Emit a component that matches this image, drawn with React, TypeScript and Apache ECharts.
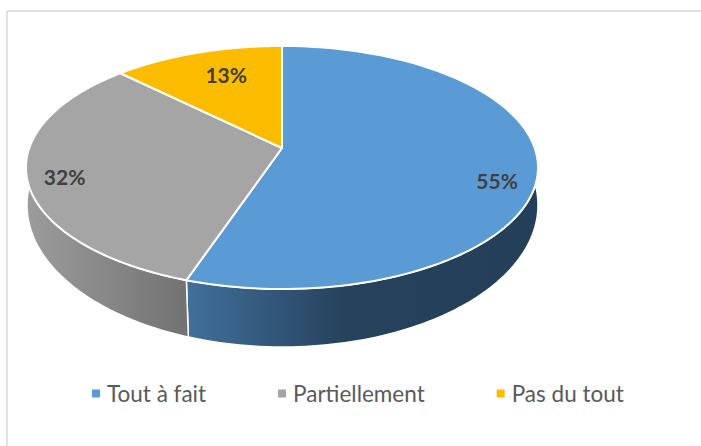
import React, { useEffect, useRef } from "react";
import * as echarts from "echarts";

const categories = ["Tout à fait", "Partiellement", "Pas du tout"];
const shares = [55.2, 32.2, 12.6];

const topColors = ["#5B9BD5", "#A5A5A5", "#FBBC00"];
const wallStops: [number, string][][] = [
  [[0, "#41709C"], [0.45, "#26425C"], [1, "#243F58"]],
  [[0, "#9C9C9C"], [1, "#727272"]],
  [[0, "#BD9000"], [1, "#BD9000"]],
];
// radial position of each label on the disc, plus a small screen shift
const labelRadius = [0.84, 0.86, 0.7];
const labelShift = [[1, 16], [1, 4], [6, -4]];

// perspective disc
const APEX = { x: 282, y: 148 };
const K = 0.1605, A = 118.4, B = 252.7;
// lower outline of the side wall
const LOW = { x: 282.5, y: 205, rx: 255.5, ry: 142, edgeY: 187, lean: 2 };

const total = shares.reduce((a, b) => a + b, 0);
const project = (deg: number, r = 1) => {
  const t = (deg * Math.PI) / 180;
  const X = Math.sin(t) * r, Y = Math.cos(t) * r, w = 1 + K * Y;
  return [APEX.x + (B * X) / w, APEX.y - (A * Y) / w];
};
const PHI0 = Math.asin((LOW.edgeY - LOW.y) / LOW.ry);
const wallPhi = (deg: number) => {
  if (deg <= 90) return PHI0;
  if (deg >= 270) return Math.PI - PHI0;
  const c = Math.max(-1, Math.min(1, (project(deg)[0] + LOW.lean - LOW.x) / LOW.rx));
  return Math.acos(c);
};

function renderSlice(idx: number) {
  return (_params: any, api: any) => {
    const value = api.value(0);
    const before = shares.slice(0, idx).reduce((a, b) => a + b, 0);
    const a0 = (before / total) * 360;
    const a1 = a0 + (value / total) * 360;
    const children: any[] = [];

    const ws = Math.max(a0, 90), we = Math.min(a1, 270);
    if (ws < we) {
      const pts: number[][] = [];
      const p0 = wallPhi(ws), p1 = wallPhi(we);
      for (let i = 0; i <= 80; i++) {
        const f = p0 + ((p1 - p0) * i) / 80;
        pts.push([LOW.x + LOW.rx * Math.cos(f), LOW.y + LOW.ry * Math.sin(f)]);
      }
      for (let i = 80; i >= 0; i--) pts.push(project(ws + ((we - ws) * i) / 80));
      children.push({
        type: "polygon",
        shape: { points: pts },
        style: {
          fill: new echarts.graphic.LinearGradient(
            0, 0, 1, 0,
            wallStops[idx].map(([offset, color]) => ({ offset, color }))
          ),
          stroke: "#fff",
          lineWidth: 1.5,
        },
      });
    }

    const top: number[][] = [[APEX.x, APEX.y]];
    for (let i = 0; i <= 120; i++) top.push(project(a0 + ((a1 - a0) * i) / 120));
    children.push({
      type: "polygon",
      shape: { points: top },
      style: { fill: topColors[idx], stroke: "#fff", lineWidth: 2, lineJoin: "round" },
    });

    const mid = (a0 + a1) / 2;
    const lp = project(mid, labelRadius[idx]);
    children.push({
      type: "text",
      x: lp[0] + labelShift[idx][0],
      y: lp[1] + labelShift[idx][1],
      style: {
        text: `${Math.round(value)}%`,
        fill: "#404040",
        font: 'bold 21px Lato, "Open Sans", sans-serif',
        align: "center",
        verticalAlign: "middle",
      },
    });
    return { type: "group", children };
  };
}

export default function App() {
  const ref = useRef<HTMLDivElement>(null);
  useEffect(() => {
    document.body.style.margin = "0";
    const chart = echarts.init(ref.current!, undefined, { renderer: "svg" });
    chart.setOption({
      animation: false,
      backgroundColor: "#fff",
      legend: {
        left: 87,
        top: 377,
        icon: "rect",
        itemWidth: 8,
        itemHeight: 8,
        itemGap: 72,
        selectedMode: false,
        data: categories,
        textStyle: {
          color: "#595959",
          fontFamily: 'Lato, "Open Sans", sans-serif',
          fontSize: 22.5,
          padding: [0, 0, 0, 2],
        },
      },
      graphic: [
        { type: "line", shape: { x1: 7, y1: 11, x2: 701, y2: 11 }, style: { stroke: "#D9D9D9", lineWidth: 1.5 } },
        { type: "line", shape: { x1: 7, y1: 11, x2: 7, y2: 446 }, style: { stroke: "#D9D9D9", lineWidth: 1.5 } },
      ],
      series: categories.map((name, i) => ({
        type: "custom",
        name,
        coordinateSystem: "none",
        itemStyle: { color: topColors[i] },
        renderItem: renderSlice(i),
        data: [[shares[i]]],
        silent: true,
      })),
    });
    return () => chart.dispose();
  }, []);
  return <div ref={ref} style={{ position: "fixed", left: 0, top: 0, width: 701, height: 446 }} />;
}
